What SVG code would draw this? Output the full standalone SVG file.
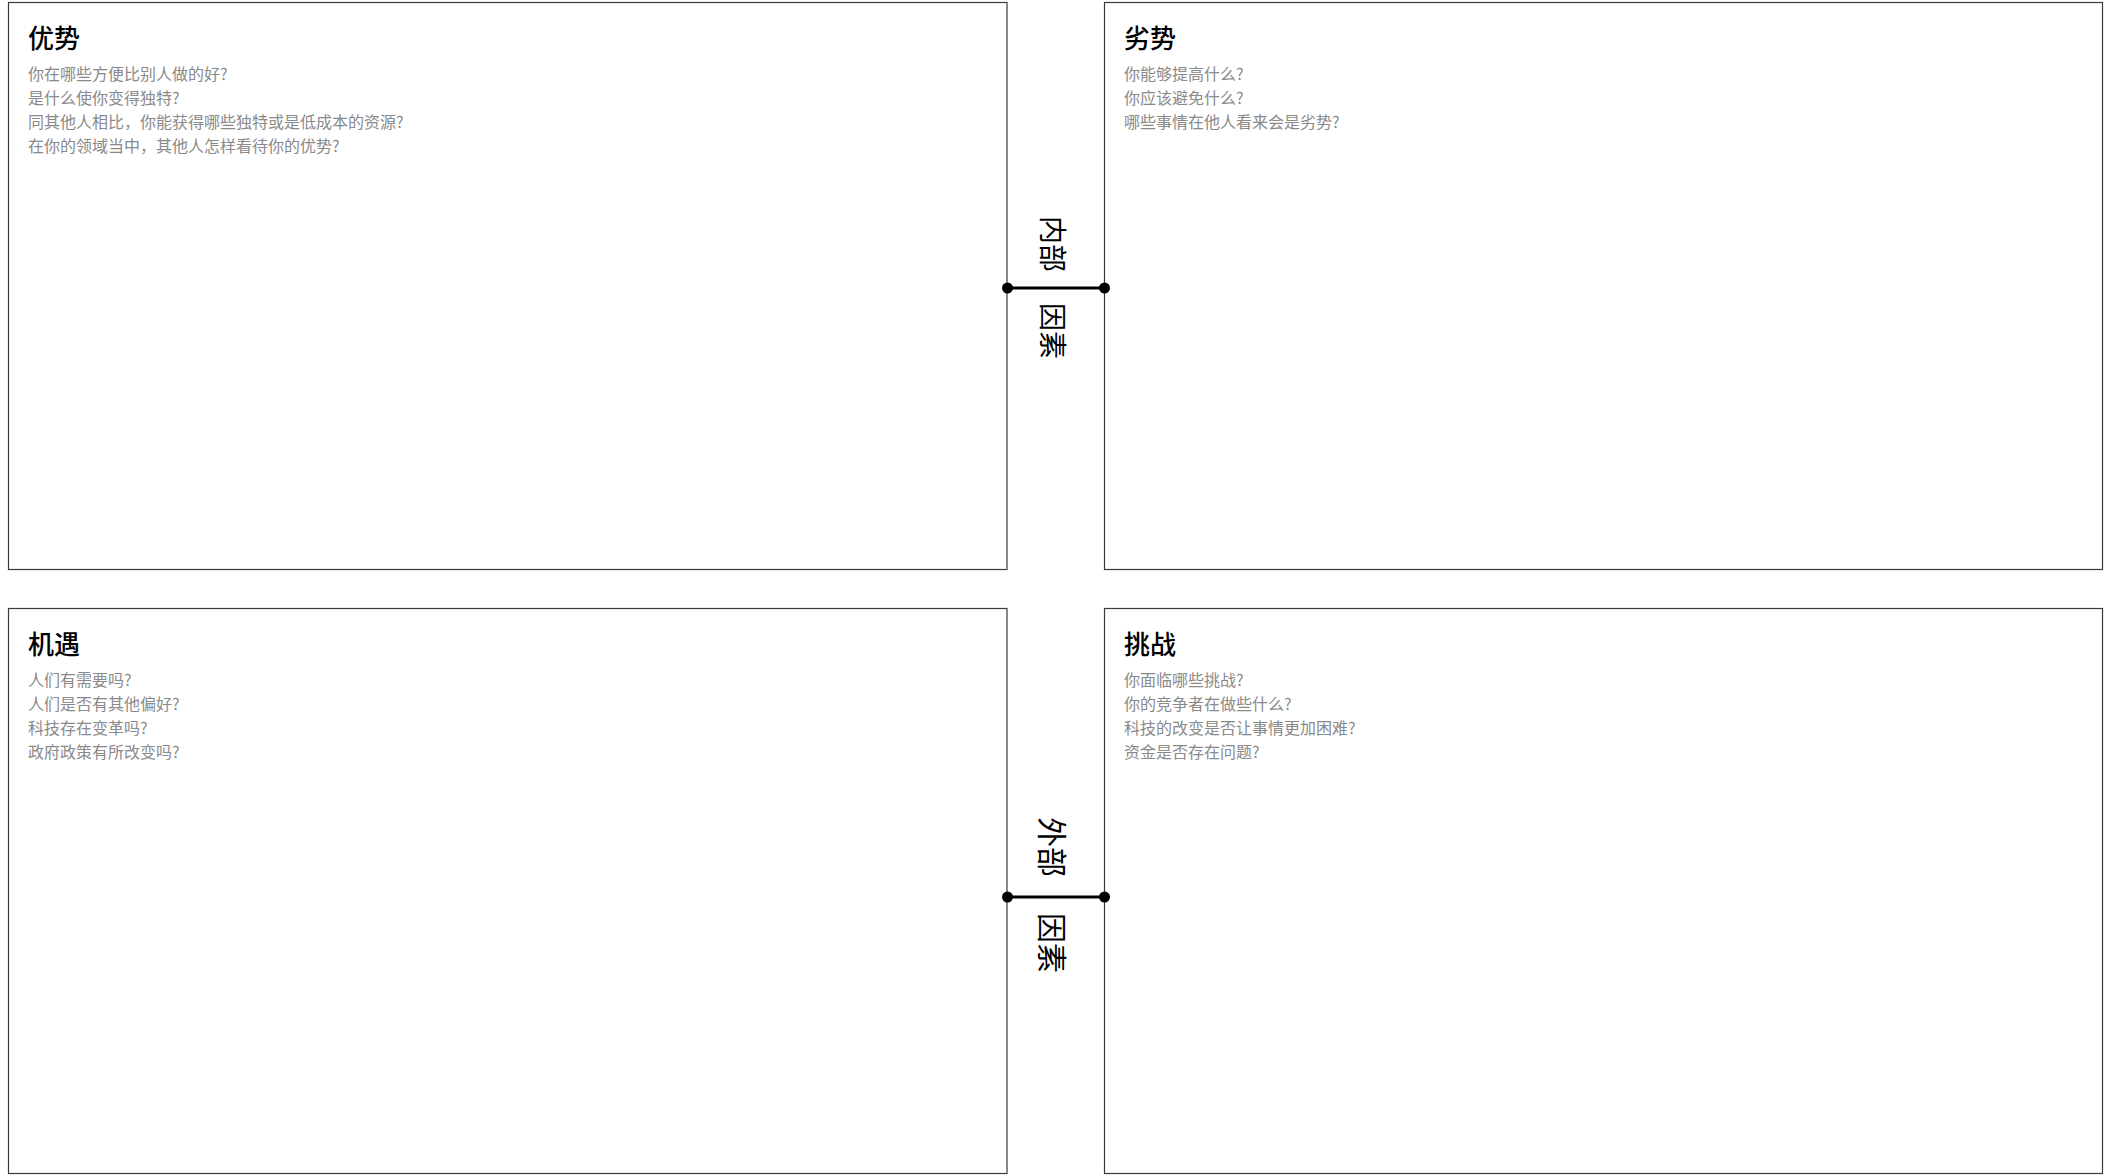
<svg xmlns="http://www.w3.org/2000/svg" width="2111" height="1175" viewBox="0 0 2111 1175">
<style>
  .box { fill: #ffffff; stroke: #3a3a3a; stroke-width: 1.2; }
  .title { font-family: "Noto Sans CJK SC", "Noto Sans", sans-serif; font-size: 26px; font-weight: 500; fill: #000000; }
  .body { font-family: "Noto Sans CJK SC", "Noto Sans", sans-serif; font-size: 16px; fill: #8a8a8a; }
  .side { font-family: "Noto Sans CJK SC", "Noto Sans", sans-serif; font-size: 28px; fill: #000000; dominant-baseline: central; }
  .side2 { font-family: "Noto Sans CJK SC", "Noto Sans", sans-serif; font-size: 30px; fill: #000000; dominant-baseline: central; }
  .conn { stroke: #000000; stroke-width: 3; fill: none; }
  .dot { fill: #000000; }
</style>
<rect x="0" y="0" width="2111" height="1175" fill="#ffffff"/>

<g id="strengths">
  <rect class="box" x="8.5" y="2.5" width="998.5" height="567"/>
  <text class="title" x="28" y="48">优势</text>
  <text class="body" x="28" y="80">你在哪些方便比别人做的好?</text>
  <text class="body" x="28" y="104">是什么使你变得独特?</text>
  <text class="body" x="28" y="128">同其他人相比，你能获得哪些独特或是低成本的资源?</text>
  <text class="body" x="28" y="152">在你的领域当中，其他人怎样看待你的优势?</text>
</g>

<g id="weaknesses">
  <rect class="box" x="1104.5" y="2.5" width="998" height="567"/>
  <text class="title" x="1124" y="48">劣势</text>
  <text class="body" x="1124" y="80">你能够提高什么?</text>
  <text class="body" x="1124" y="104">你应该避免什么?</text>
  <text class="body" x="1124" y="128">哪些事情在他人看来会是劣势?</text>
</g>

<g id="opportunities">
  <rect class="box" x="8.5" y="608.5" width="998.5" height="565"/>
  <text class="title" x="28" y="653.5">机遇</text>
  <text class="body" x="28" y="685.5">人们有需要吗?</text>
  <text class="body" x="28" y="709.5">人们是否有其他偏好?</text>
  <text class="body" x="28" y="733.5">科技存在变革吗?</text>
  <text class="body" x="28" y="757.5">政府政策有所改变吗?</text>
</g>

<g id="threats">
  <rect class="box" x="1104.5" y="608.5" width="998" height="565"/>
  <text class="title" x="1124" y="653.5">挑战</text>
  <text class="body" x="1124" y="685.5">你面临哪些挑战?</text>
  <text class="body" x="1124" y="709.5">你的竞争者在做些什么?</text>
  <text class="body" x="1124" y="733.5">科技的改变是否让事情更加困难?</text>
  <text class="body" x="1124" y="757.5">资金是否存在问题?</text>
</g>

<g id="internal-label">
  <text class="side" transform="translate(1054,216) rotate(90)">内部</text>
  <text class="side" transform="translate(1054,303) rotate(90)">因素</text>
</g>

<g id="external-label">
  <text class="side2" transform="translate(1054,817) rotate(90)">外部</text>
  <text class="side2" transform="translate(1054,913) rotate(90)">因素</text>
</g>

<g id="connectors">
  <line class="conn" x1="1007.5" y1="288" x2="1104.5" y2="288"/>
  <circle class="dot" cx="1007.5" cy="288" r="5.5"/>
  <circle class="dot" cx="1104.5" cy="288" r="5.5"/>
  <line class="conn" x1="1007.5" y1="897" x2="1104.5" y2="897"/>
  <circle class="dot" cx="1007.5" cy="897" r="5.5"/>
  <circle class="dot" cx="1104.5" cy="897" r="5.5"/>
</g>
</svg>
